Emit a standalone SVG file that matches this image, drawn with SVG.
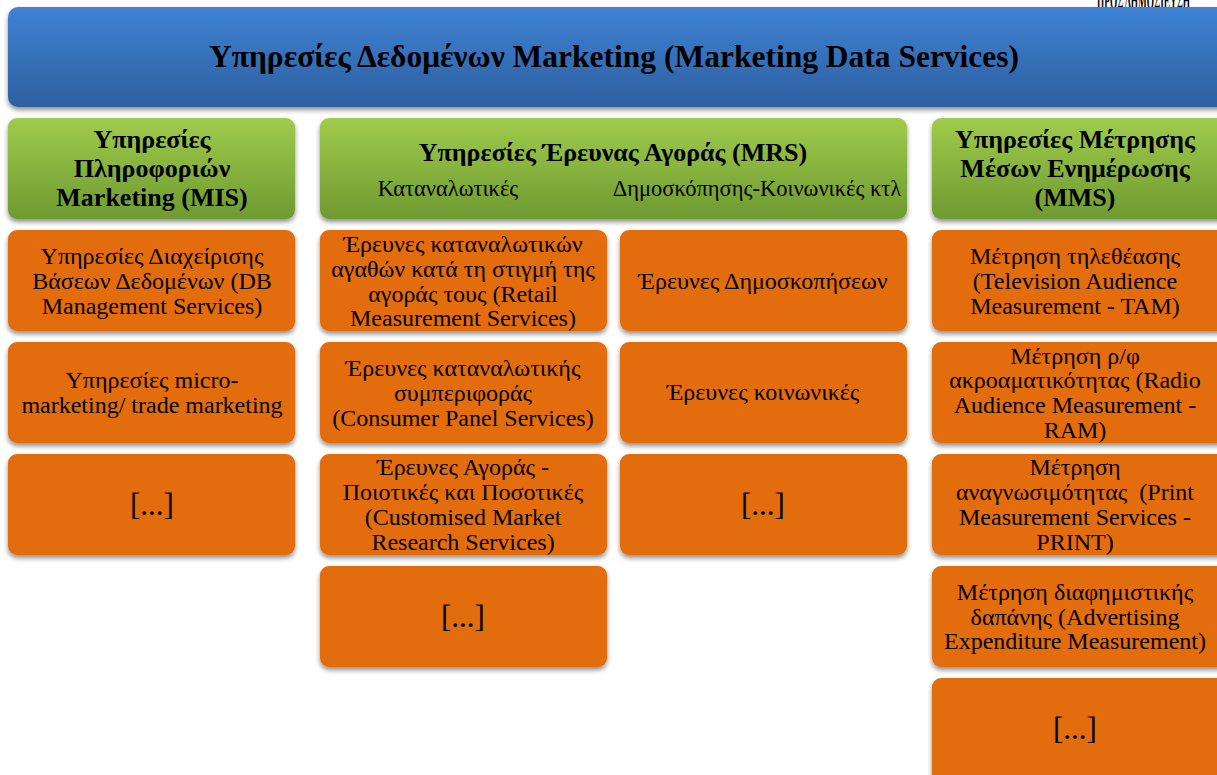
<svg xmlns="http://www.w3.org/2000/svg" width="1217" height="775" viewBox="0 0 1217 775">
<defs>
<linearGradient id="gBlue" x1="0" y1="0" x2="0" y2="1">
<stop offset="0" stop-color="#3f82d4"/>
<stop offset="1" stop-color="#2d5f9f"/>
</linearGradient>
<linearGradient id="gGreen" x1="0" y1="0" x2="0" y2="1">
<stop offset="0" stop-color="#a0cb4c"/>
<stop offset="1" stop-color="#6e9a30"/>
</linearGradient>
<filter id="sh" x="-5%" y="-10%" width="110%" height="130%">
<feGaussianBlur in="SourceAlpha" stdDeviation="2.5"/>
<feOffset dx="0" dy="3" result="b"/>
<feComponentTransfer><feFuncA type="linear" slope="0.45"/></feComponentTransfer>
<feMerge><feMergeNode/><feMergeNode in="SourceGraphic"/></feMerge>
</filter>
</defs>
<style>
.blue{fill:url(#gBlue);filter:url(#sh)}
.green{fill:url(#gGreen);filter:url(#sh)}
.orange{fill:#e36c0a;filter:url(#sh)}
text{font-family:"Liberation Serif","Times New Roman",serif;fill:#000;text-anchor:middle}
.title{font-size:31.5px;font-weight:bold}
.hd{font-size:26px;font-weight:bold}
.sub{font-size:22.5px}
.t{font-size:24px}
.dots{font-size:31px}
.cut{font-size:26px;font-weight:bold;text-anchor:start}
</style>
<rect width="1217" height="775" fill="#ffffff"/>
<text class="cut" x="1097" y="9" textLength="93" lengthAdjust="spacingAndGlyphs">ΠΡΟΣ ΔΗΜΟΣΙΕΥΣΗ</text>

<g id="root">
<rect class="blue" x="8" y="7" width="1220" height="100" rx="10"/>
<text class="title" x="614" y="67">Υπηρεσίες Δεδομένων Marketing (Marketing Data Services)</text>
</g>

<g id="mis">
<rect class="green" x="8" y="118" width="287" height="101" rx="9"/>
<text class="hd" x="152" y="148">Υπηρεσίες</text>
<text class="hd" x="152" y="177">Πληροφοριών</text>
<text class="hd" x="152" y="206">Marketing (MIS)</text>
</g>

<g id="mrs">
<rect class="green" x="320" y="118" width="587" height="101" rx="9"/>
<text class="hd" x="613" y="161">Υπηρεσίες Έρευνας Αγοράς (MRS)</text>
<text class="sub" x="448" y="196">Καταναλωτικές</text>
<text class="sub" x="757" y="196">Δημοσκόπησης-Κοινωνικές κτλ</text>
</g>

<g id="mms">
<rect class="green" x="932" y="118" width="296" height="101" rx="9"/>
<text class="hd" x="1075" y="148">Υπηρεσίες Μέτρησης</text>
<text class="hd" x="1075" y="177">Μέσων Ενημέρωσης</text>
<text class="hd" x="1075" y="206">(MMS)</text>
</g>

<g id="mis1">
<rect class="orange" x="8" y="230" width="287" height="101" rx="9"/>
<text class="t" x="152" y="264">Υπηρεσίες Διαχείρισης</text>
<text class="t" x="152" y="289">Βάσεων Δεδομένων (DB</text>
<text class="t" x="152" y="314">Management Services)</text>
</g>
<g id="mis2">
<rect class="orange" x="8" y="342" width="287" height="101" rx="9"/>
<text class="t" x="152" y="388">Υπηρεσίες micro-</text>
<text class="t" x="152" y="413">marketing/ trade marketing</text>
</g>
<g id="mis3">
<rect class="orange" x="8" y="454" width="287" height="101" rx="9"/>
<text class="dots" x="152" y="515">[...]</text>
</g>

<g id="mrs1">
<rect class="orange" x="320" y="230" width="287" height="101" rx="9"/>
<text class="t" x="463" y="252">Έρευνες καταναλωτικών</text>
<text class="t" x="463" y="277">αγαθών κατά τη στιγμή της</text>
<text class="t" x="463" y="302">αγοράς τους (Retail</text>
<text class="t" x="463" y="326">Measurement Services)</text>
</g>
<g id="mrs2">
<rect class="orange" x="320" y="342" width="287" height="101" rx="9"/>
<text class="t" x="463" y="376">Έρευνες καταναλωτικής</text>
<text class="t" x="463" y="401">συμπεριφοράς</text>
<text class="t" x="463" y="426">(Consumer Panel Services)</text>
</g>
<g id="mrs3">
<rect class="orange" x="320" y="454" width="287" height="101" rx="9"/>
<text class="t" x="463" y="475">Έρευνες Αγοράς -</text>
<text class="t" x="463" y="500">Ποιοτικές και Ποσοτικές</text>
<text class="t" x="463" y="525">(Customised Market</text>
<text class="t" x="463" y="550">Research Services)</text>
</g>
<g id="mrs4">
<rect class="orange" x="320" y="566" width="287" height="101" rx="9"/>
<text class="dots" x="463" y="627">[...]</text>
</g>

<g id="mrs5">
<rect class="orange" x="620" y="230" width="287" height="101" rx="9"/>
<text class="t" x="763" y="289">Έρευνες Δημοσκοπήσεων</text>
</g>
<g id="mrs6">
<rect class="orange" x="620" y="342" width="287" height="101" rx="9"/>
<text class="t" x="763" y="400">Έρευνες κοινωνικές</text>
</g>
<g id="mrs7">
<rect class="orange" x="620" y="454" width="287" height="101" rx="9"/>
<text class="dots" x="763" y="515">[...]</text>
</g>

<g id="mms1">
<rect class="orange" x="932" y="230" width="296" height="101" rx="9"/>
<text class="t" x="1075" y="264">Μέτρηση τηλεθέασης</text>
<text class="t" x="1075" y="289">(Television Audience</text>
<text class="t" x="1075" y="314">Measurement - TAM)</text>
</g>
<g id="mms2">
<rect class="orange" x="932" y="342" width="296" height="101" rx="9"/>
<text class="t" x="1075" y="364">Μέτρηση ρ/φ</text>
<text class="t" x="1075" y="388">ακροαματικότητας (Radio</text>
<text class="t" x="1075" y="413">Audience Measurement -</text>
<text class="t" x="1075" y="438">RAM)</text>
</g>
<g id="mms3">
<rect class="orange" x="932" y="454" width="296" height="101" rx="9"/>
<text class="t" x="1075" y="475">Μέτρηση</text>
<text class="t" x="1075" y="500" xml:space="preserve">αναγνωσιμότητας  (Print</text>
<text class="t" x="1075" y="525">Measurement Services -</text>
<text class="t" x="1075" y="550">PRINT)</text>
</g>
<g id="mms4">
<rect class="orange" x="932" y="566" width="296" height="101" rx="9"/>
<text class="t" x="1075" y="600">Μέτρηση διαφημιστικής</text>
<text class="t" x="1075" y="625">δαπάνης (Advertising</text>
<text class="t" x="1075" y="649">Expenditure Measurement)</text>
</g>
<g id="mms5">
<rect class="orange" x="932" y="678" width="296" height="110" rx="9"/>
<text class="dots" x="1075" y="739">[...]</text>
</g>
<g id="connectors"/>
</svg>
